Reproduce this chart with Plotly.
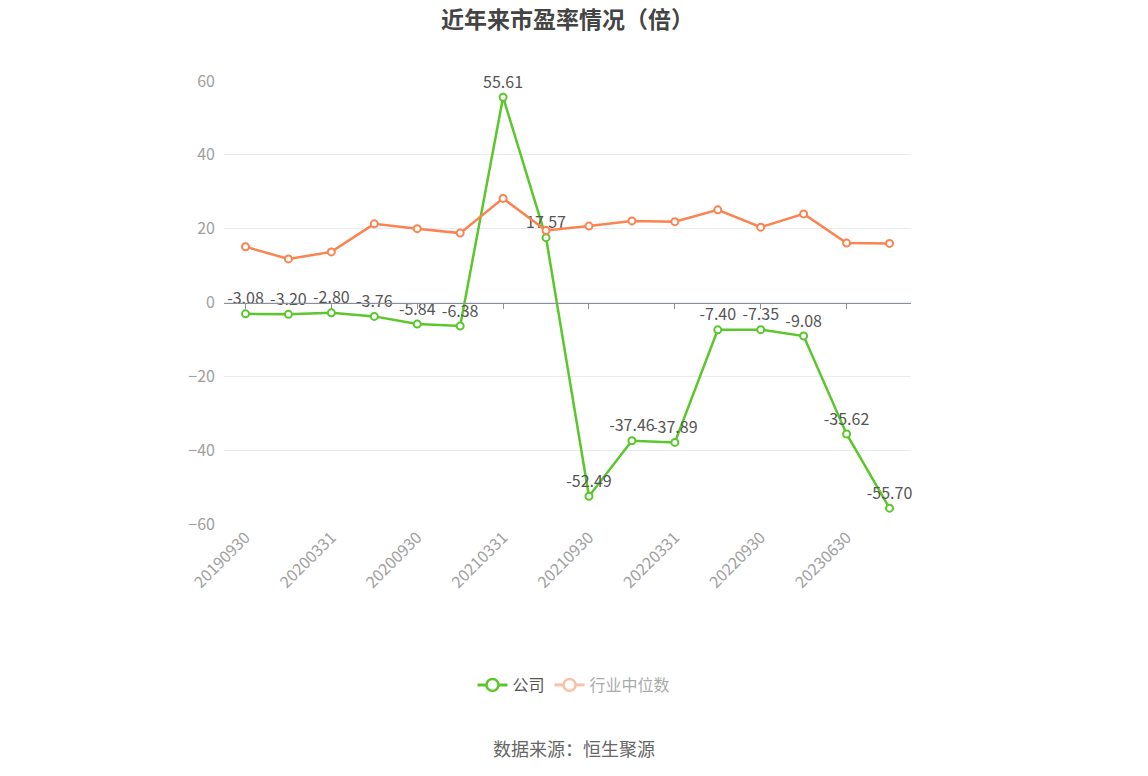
import plotly.graph_objects as go

# 报告期
dates = ['20190930', '20191231', '20200331', '20200630', '20200930', '20201231',
         '20210331', '20210630', '20210930', '20211231', '20220331', '20220630',
         '20220930', '20230331', '20230630', '20230930']
tick_dates = dates[::2]

# 市盈率(倍)
company_pe = [-3.08, -3.20, -2.80, -3.76, -5.84, -6.38, 55.61, 17.57,
              -52.49, -37.46, -37.89, -7.40, -7.35, -9.08, -35.62, -55.70]
industry_pe = [15.1, 11.8, 13.7, 21.3, 20.0, 18.8, 28.2, 19.5,
               20.7, 22.1, 21.9, 25.1, 20.4, 24.0, 16.1, 16.0]

green = '#5ac72a'
orange = '#fb8350'

# the page has an 8px body margin, so positions below are shifted by it
fig = go.Figure()

fig.add_trace(go.Scatter(
    x=dates, y=industry_pe, name='行业中位数', mode='lines+markers',
    line=dict(color=orange, width=2.5),
    marker=dict(symbol='circle', size=7, color='white', line=dict(color=orange, width=2)),
    showlegend=False, xaxis='x2',
))
fig.add_trace(go.Scatter(
    x=dates, y=company_pe, name='公司', mode='lines+markers+text',
    line=dict(color=green, width=2.5),
    marker=dict(symbol='circle', size=7, color='white', line=dict(color=green, width=2)),
    text=['%.2f' % v for v in company_pe], textposition='top center',
    textfont=dict(size=16, color='#555555'), cliponaxis=False,
    showlegend=False,
))
# legend entries (bigger symbols, industry one faded like the reference)
fig.add_trace(go.Scatter(
    x=[None], y=[None], name='公司', mode='lines+markers',
    line=dict(color=green, width=3),
    marker=dict(symbol='circle', size=12, color='white', line=dict(color=green, width=2.5)),
))
fig.add_trace(go.Scatter(
    x=dates, y=industry_pe, name='行业中位数', mode='lines+markers',
    line=dict(color=orange, width=3),
    marker=dict(symbol='circle', size=12, color='white', line=dict(color=orange, width=2.5)),
    visible='legendonly',
))

fig.update_layout(
    width=1148, height=776,
    margin=dict(l=216, r=245, t=73, b=260),
    paper_bgcolor='white', plot_bgcolor='white',
    font=dict(family='Noto Sans CJK SC, sans-serif', color='#555555'),
    title=dict(text='<b>近年来市盈率情况（倍）</b>', x=0.5, xref='paper', xanchor='center',
               y=1 - 12 / 776, yref='container', yanchor='middle',
               font=dict(size=23, color='#444444')),
    xaxis=dict(type='category', categoryorder='array', categoryarray=dates,
               range=[-0.5, 15.5], tickvals=tick_dates, ticktext=tick_dates,
               tickangle=-45, tickfont=dict(size=16, color='#a0a0a0'),
               showgrid=False, showline=False, zeroline=False, ticks=''),
    xaxis2=dict(type='category', categoryorder='array', categoryarray=dates,
                overlaying='x', matches='x', anchor='free', position=0.5, side='bottom',
                tickvals=tick_dates, showticklabels=False, ticks='outside', ticklen=5,
                tickcolor='#8a8f99', showline=True, linecolor='#8a8f99', linewidth=1,
                showgrid=False, zeroline=False),
    yaxis=dict(range=[-60, 60], tickvals=[-60, -40, -20, 0, 20, 40, 60],
               tickfont=dict(size=16, color='#a0a0a0'), gridcolor='#e8ebf1',
               zeroline=False, showline=False, ticks='', ticklabelstandoff=8),
    legend=dict(orientation='h', x=566 / 1148, xref='container', xanchor='center',
                y=1 - 677 / 776, yref='container', yanchor='middle',
                font=dict(size=16, color='#555555')),
    annotations=[dict(text='数据来源：恒生聚源', xref='paper', yref='paper',
                      x=(566 - 216) / 687, y=(516 - 740) / 443, xanchor='center',
                      yanchor='middle', showarrow=False,
                      font=dict(size=18, color='#666666'))],
)

fig.write_html('out.html')
